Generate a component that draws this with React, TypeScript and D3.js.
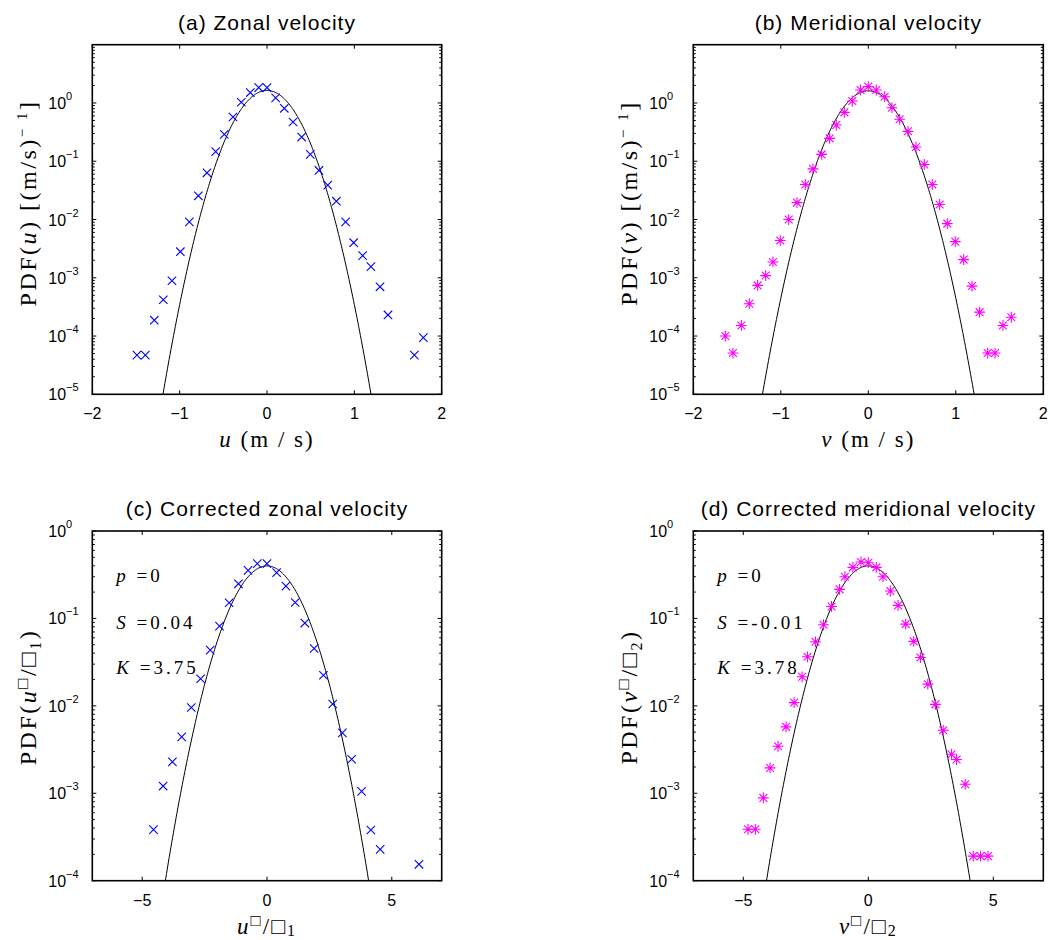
import React from "react";
import * as d3 from "d3";

// ---------- data ----------
// (a) zonal velocity u (m/s), PDF
const A_U = [-1.489, -1.393, -1.29, -1.187, -1.088, -0.992, -0.889, -0.786, -0.687, -0.588, -0.489, -0.389, -0.294, -0.191, -0.095, 0, 0.099, 0.198, 0.298, 0.397, 0.496, 0.595, 0.695, 0.794, 0.9, 0.992, 1.095, 1.19, 1.294, 1.385, 1.687, 1.79];
const A_PDF = [4.7e-5, 4.7e-5, 1.87e-4, 4.2e-4, 8.9e-4, 2.8e-3, 9.1e-3, 0.0255, 0.0633, 0.146, 0.289, 0.574, 1.03, 1.51, 1.84, 1.84, 1.22, 0.81, 0.471, 0.26, 0.131, 0.0695, 0.0389, 0.0206, 9.1e-3, 4.0e-3, 2.4e-3, 1.55e-3, 7.0e-4, 2.3e-4, 4.7e-5, 9.4e-5];
// (b) meridional velocity v (m/s), PDF
const B_V = [-1.634, -1.547, -1.451, -1.36, -1.265, -1.173, -1.09, -1.006, -0.91, -0.815, -0.72, -0.632, -0.533, -0.442, -0.366, -0.274, -0.183, -0.088, 0, 0.091, 0.187, 0.27, 0.358, 0.453, 0.545, 0.64, 0.731, 0.815, 0.903, 0.994, 1.09, 1.185, 1.272, 1.364, 1.448, 1.539, 1.634];
const B_PDF = [1.0e-4, 5.1e-5, 1.52e-4, 3.58e-4, 7.4e-4, 1.09e-3, 1.87e-3, 4.35e-3, 9.98e-3, 0.0195, 0.0399, 0.074, 0.131, 0.247, 0.419, 0.69, 1.08, 1.67, 1.91, 1.67, 1.28, 0.83, 0.524, 0.326, 0.175, 0.088, 0.0399, 0.0181, 8.5e-3, 4.17e-3, 2.05e-3, 7.2e-4, 2.57e-4, 5.1e-5, 5.1e-5, 1.52e-4, 2.1e-4];
// (c) corrected zonal velocity
const C_X = [-4.548, -4.162, -3.79, -3.418, -3.032, -2.66, -2.274, -1.902, -1.516, -1.144, -0.758, -0.386, 0, 0.386, 0.758, 1.13, 1.516, 1.888, 2.261, 2.633, 3.019, 3.391, 3.79, 4.162, 4.535, 6.09];
const C_PDF = [3.84e-4, 1.21e-3, 2.29e-3, 4.42e-3, 9.57e-3, 0.0204, 0.0434, 0.0817, 0.151, 0.249, 0.355, 0.423, 0.423, 0.334, 0.234, 0.152, 0.0885, 0.0453, 0.0224, 0.0105, 4.91e-3, 2.45e-3, 1.05e-3, 3.8e-4, 2.28e-4, 1.54e-4];
// (d) corrected meridional velocity
const D_X = [-4.813, -4.519, -4.198, -3.93, -3.61, -3.289, -2.968, -2.647, -2.433, -2.112, -1.791, -1.471, -1.15, -0.936, -0.615, -0.294, 0, 0.321, 0.588, 0.882, 1.19, 1.497, 1.818, 2.086, 2.38, 2.687, 2.995, 3.329, 3.53, 3.877, 4.198, 4.492, 4.786];
const D_PDF = [3.87e-4, 3.87e-4, 8.85e-4, 1.95e-3, 3.45e-3, 5.75e-3, 0.0109, 0.0215, 0.0364, 0.054, 0.0846, 0.137, 0.215, 0.3, 0.384, 0.442, 0.434, 0.384, 0.3, 0.206, 0.141, 0.0861, 0.0546, 0.0357, 0.0177, 0.0104, 5.26e-3, 2.8e-3, 2.43e-3, 1.27e-3, 1.91e-4, 1.91e-4, 1.91e-4];

// Gaussian reference curves (mean, std)
const GAUSS_A = [0, 0.243];
const GAUSS_B = [0, 0.247];
const GAUSS_C = [0, 1];
const GAUSS_D = [0, 1];

const TOP_XTICKS = [-2, -1, 0, 1, 2];
const BOT_XTICKS = [-5, 0, 5];
const TOP_YRANGE = [-5, 1];
const TOP_YLABELED = [-5, -4, -3, -2, -1, 0];
const BOT_YRANGE = [-4, 0];
const BOT_YLABELED = [-4, -3, -2, -1, 0];

const TITLES = ["(a) Zonal velocity", "(b) Meridional velocity", "(c) Corrected zonal velocity", "(d) Corrected meridional velocity"];
const STATS_C = ["0", "0.04", "3.75"];
const STATS_D = ["0", "-0.01", "3.78"];

const BLUE = "#0000ff";
const MAGENTA = "#ff00ff";
const SERIF = "'Liberation Serif', 'DejaVu Serif', serif";
const SANS = "'Liberation Sans', Arial, Helvetica, sans-serif";

function gaussCurve(mu: number, s: number, x0: number, x1: number) {
  const pts: [number, number][] = [];
  const n = 400;
  for (let i = 0; i <= n; i++) {
    const x = x0 + ((x1 - x0) * i) / n;
    const y = Math.exp(-((x - mu) ** 2) / (2 * s * s)) / (s * Math.sqrt(2 * Math.PI));
    pts.push([x, y]);
  }
  return pts;
}

type PanelProps = {
  id: string;
  left: number; right: number; top: number; bottom: number;
  xDomain: [number, number]; yRange: number[]; yLabeled: number[];
  xTicks: number[];
  xs: number[]; ys: number[]; gauss: number[];
  marker: "x" | "*"; color: string;
  title: string;
  ylabel: React.ReactNode; ylabelCY: number;
  xlabel: React.ReactNode;
  stats?: string[];
};

function Marker({ x, y, kind, color }: { x: number; y: number; kind: "x" | "*"; color: string }) {
  if (kind === "x") {
    const r = 4.2;
    return <path d={`M${x - r},${y - r}L${x + r},${y + r}M${x - r},${y + r}L${x + r},${y - r}`} stroke={color} strokeWidth={1.1} fill="none" />;
  }
  const r = 5.4, q = 3.9;
  return <path d={`M${x - r},${y}L${x + r},${y}M${x},${y - r}L${x},${y + r}M${x - q},${y - q}L${x + q},${y + q}M${x - q},${y + q}L${x + q},${y - q}`} stroke={color} strokeWidth={1.1} fill="none" />;
}

function Panel(p: PanelProps) {
  const x = d3.scaleLinear().domain(p.xDomain).range([p.left, p.right]);
  const lo = p.yRange[0], hi = p.yRange[1];
  const y = d3.scaleLog().domain([10 ** lo, 10 ** hi]).range([p.bottom, p.top]);
  const curve = gaussCurve(p.gauss[0], p.gauss[1], p.xDomain[0], p.xDomain[1]).filter(d => d[1] > 10 ** (lo - 0.3));
  const line = d3.line<[number, number]>().x(d => x(d[0])).y(d => y(d[1]));
  const minor: number[] = [];
  for (let e = lo; e < hi; e++) for (let k = 2; k <= 9; k++) minor.push(k * 10 ** e);
  const cx = (p.left + p.right) / 2;
  const majLen = 4, minLen = 2.5;
  return (
    <g>
      <defs>
        <clipPath id={`clip-${p.id}`}>
          <rect x={p.left} y={p.top} width={p.right - p.left} height={p.bottom - p.top} />
        </clipPath>
      </defs>
      <text x={cx} y={p.top - 15} textAnchor="middle" fontFamily={SANS} fontSize={21} letterSpacing={1} fill="#000">{p.title}</text>
      {/* gaussian */}
      <path d={line(curve as [number, number][])!} stroke="#000" strokeWidth={1} fill="none" clipPath={`url(#clip-${p.id})`} />
      {/* markers */}
      <g clipPath={`url(#clip-${p.id})`}>
        {p.xs.map((v, i) => (
          <Marker key={i} x={x(v)} y={y(p.ys[i])} kind={p.marker} color={p.color} />
        ))}
      </g>
      {/* ticks */}
      {p.xTicks.map(t => (
        <g key={`xt${t}`}>
          <line x1={x(t)} x2={x(t)} y1={p.bottom} y2={p.bottom - majLen} stroke="#000" strokeWidth={1} />
          <line x1={x(t)} x2={x(t)} y1={p.top} y2={p.top + majLen} stroke="#000" strokeWidth={1} />
          <text x={x(t)} y={p.bottom + 25} textAnchor="middle" fontFamily={SANS} fontSize={16}>{t < 0 ? `\u2212${-t}` : `${t}`}</text>
        </g>
      ))}
      {p.yLabeled.map(e => (
        <g key={`yt${e}`}>
          <line x1={p.left} x2={p.left + majLen} y1={y(10 ** e)} y2={y(10 ** e)} stroke="#000" strokeWidth={1} />
          <line x1={p.right} x2={p.right - majLen} y1={y(10 ** e)} y2={y(10 ** e)} stroke="#000" strokeWidth={1} />
          <text x={p.left - 44} y={y(10 ** e) + 6} fontFamily={SANS} fontSize={16}>
            10<tspan fontSize={11} dy={-9}>{e < 0 ? `\u2212${-e}` : `${e}`}</tspan>
          </text>
        </g>
      ))}
      {minor.map((m, i) => (
        <g key={`mn${i}`}>
          <line x1={p.left} x2={p.left + minLen} y1={y(m)} y2={y(m)} stroke="#000" strokeWidth={1} />
          <line x1={p.right} x2={p.right - minLen} y1={y(m)} y2={y(m)} stroke="#000" strokeWidth={1} />
        </g>
      ))}
      <rect x={p.left} y={p.top} width={p.right - p.left} height={p.bottom - p.top} fill="none" stroke="#000" strokeWidth={1.6} />
      {/* labels */}
      <text x={cx} y={p.bottom + 53} textAnchor="middle" fontFamily={SERIF} fontSize={23} letterSpacing={2}>{p.xlabel}</text>
      <text transform={`translate(${p.left - 56},${p.ylabelCY}) rotate(-90)`} textAnchor="middle" fontFamily={SERIF} fontSize={24} letterSpacing={2.5}>{p.ylabel}</text>
      {p.stats && (
        <g fontFamily={SERIF} fontSize={19} letterSpacing={3}>
          <text x={p.left + 24} y={582}><tspan fontStyle="italic">p</tspan> ={p.stats[0]}</text>
          <text x={p.left + 24} y={629}><tspan fontStyle="italic">S</tspan> ={p.stats[1]}</text>
          <text x={p.left + 24} y={674}><tspan fontStyle="italic">K</tspan> ={p.stats[2]}</text>
        </g>
      )}
    </g>
  );
}

export default function App() {
  const L1 = 92.3, R1 = 441.7, L2 = 693.3, R2 = 1043.3;
  const T1 = 44.7, B1 = 394.3, T2 = 531, B2 = 880.7;
  const BOX = "\u25A1";
  return (
    <svg width={1050} height={940} style={{ position: "absolute", left: 0, top: 0, background: "#fff" }}>
      <rect x={0} y={0} width={1050} height={940} fill="#fff" />
      <Panel id="a" left={L1} right={R1} top={T1} bottom={B1} xDomain={[-2, 2]} yRange={TOP_YRANGE} yLabeled={TOP_YLABELED} xTicks={TOP_XTICKS}
        xs={A_U} ys={A_PDF} gauss={GAUSS_A} marker="x" color={BLUE} title={TITLES[0]}
        ylabel={<>PDF(<tspan fontStyle="italic">u</tspan>) [(m/s)<tspan fontSize={15} dy={-9}>− 1</tspan><tspan dy={9}>]</tspan></>}
        ylabelCY={203}
        xlabel={<><tspan fontStyle="italic">u</tspan> (m / s)</>} />
      <Panel id="b" left={L2} right={R2} top={T1} bottom={B1} xDomain={[-2, 2]} yRange={TOP_YRANGE} yLabeled={TOP_YLABELED} xTicks={TOP_XTICKS}
        xs={B_V} ys={B_PDF} gauss={GAUSS_B} marker="*" color={MAGENTA} title={TITLES[1]}
        ylabel={<>PDF(<tspan fontStyle="italic">v</tspan>) [(m/s)<tspan fontSize={15} dy={-9}>− 1</tspan><tspan dy={9}>]</tspan></>}
        ylabelCY={203}
        xlabel={<><tspan fontStyle="italic">v</tspan> (m / s)</>} />
      <Panel id="c" left={L1} right={R1} top={T2} bottom={B2} xDomain={[-7, 7]} yRange={BOT_YRANGE} yLabeled={BOT_YLABELED} xTicks={BOT_XTICKS}
        xs={C_X} ys={C_PDF} gauss={GAUSS_C} marker="x" color={BLUE} title={TITLES[2]}
        ylabel={<>PDF(<tspan fontStyle="italic">u</tspan><tspan fontSize={17} dy={-8}>{BOX}</tspan><tspan dy={8}>/{BOX}</tspan><tspan fontSize={16} dy={5}>1</tspan><tspan dy={-5}>)</tspan></>}
        ylabelCY={697}
        xlabel={<><tspan fontStyle="italic">u</tspan><tspan fontSize={17} dy={-8}>{BOX}</tspan><tspan dy={8}>/{BOX}</tspan><tspan fontSize={16} dy={2}>1</tspan></>}
        stats={STATS_C} />
      <Panel id="d" left={L2} right={R2} top={T2} bottom={B2} xDomain={[-7, 7]} yRange={BOT_YRANGE} yLabeled={BOT_YLABELED} xTicks={BOT_XTICKS}
        xs={D_X} ys={D_PDF} gauss={GAUSS_D} marker="*" color={MAGENTA} title={TITLES[3]}
        ylabel={<>PDF(<tspan fontStyle="italic">v</tspan><tspan fontSize={17} dy={-8}>{BOX}</tspan><tspan dy={8}>/{BOX}</tspan><tspan fontSize={16} dy={5}>2</tspan><tspan dy={-5}>)</tspan></>}
        ylabelCY={697}
        xlabel={<><tspan fontStyle="italic">v</tspan><tspan fontSize={17} dy={-8}>{BOX}</tspan><tspan dy={8}>/{BOX}</tspan><tspan fontSize={16} dy={2}>2</tspan></>}
        stats={STATS_D} />
    </svg>
  );
}
